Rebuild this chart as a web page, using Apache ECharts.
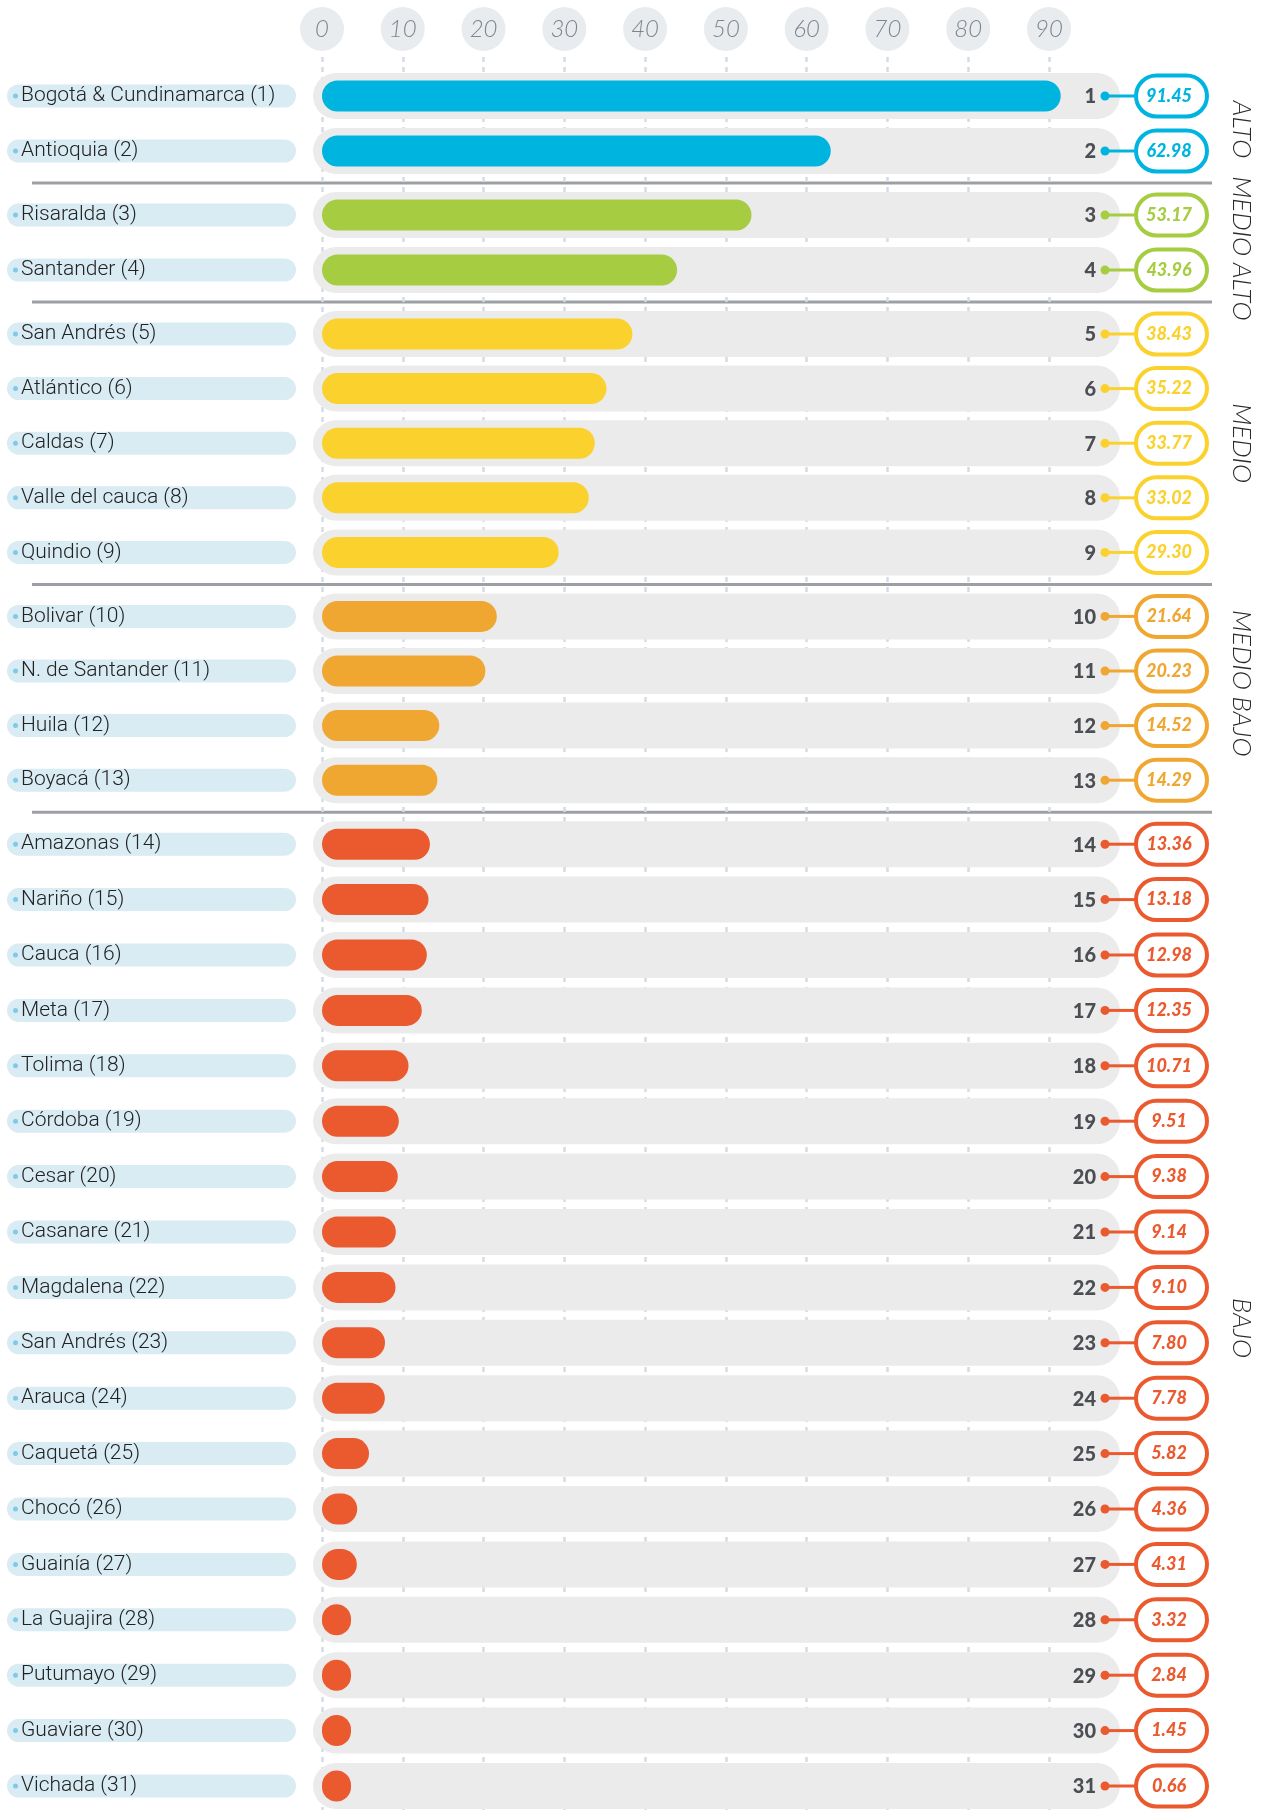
<!DOCTYPE html>
<html>
<head>
<meta charset="utf-8">
<title>Ranking departamental</title>
<script src="https://cdn.jsdelivr.net/npm/echarts@6/dist/echarts.min.js"></script>
<style>
  html, body { margin: 0; padding: 0; background: #fff; }
  #chart { width: 1264px; height: 1810px; }
</style>
</head>
<body>
<div id="chart"></div>
<script>
const nombres = [
  'Bogotá & Cundinamarca', 'Antioquia', 'Risaralda', 'Santander', 'San Andrés',
  'Atlántico', 'Caldas', 'Valle del cauca', 'Quindio', 'Bolivar',
  'N. de Santander', 'Huila', 'Boyacá', 'Amazonas', 'Nariño',
  'Cauca', 'Meta', 'Tolima', 'Córdoba', 'Cesar',
  'Casanare', 'Magdalena', 'San Andrés', 'Arauca', 'Caquetá',
  'Chocó', 'Guainía', 'La Guajira', 'Putumayo', 'Guaviare', 'Vichada'
]
const valores = [
  91.45, 62.98, 53.17, 43.96, 38.43,
  35.22, 33.77, 33.02, 29.30, 21.64,
  20.23, 14.52, 14.29, 13.36, 13.18,
  12.98, 12.35, 10.71, 9.51, 9.38,
  9.14, 9.10, 7.80, 7.78, 5.82,
  4.36, 4.31, 3.32, 2.84, 1.45, 0.66
]
const grupos = ['ALTO', 'MEDIO ALTO', 'MEDIO', 'MEDIO BAJO', 'BAJO']
const grupoTamanos = [2, 2, 5, 4, 18]
const grupoColores = ['#00b4e0', '#a6cd41', '#fbd12d', '#f0a731', '#eb5a2e']
const ticks = [0, 10, 20, 30, 40, 50, 60, 70, 80, 90]

// layout
const gridLeft = 322
const gridWidth = 727
const rowH = [55, 55, 54.6, 54.6, 55.4]
const firstRow = 96
const groupJump = 64
const labelOffset = [6, 6, 0, -15, 13]
const axisMin = ticks[0]
const axisMax = ticks[ticks.length - 1]
const axisStep = ticks[1] - ticks[0]

function pintarFila(color) {
  return function (params, api) {
    const p = api.coord([0, api.value(1)])
    const x0 = p[0]
    const y = p[1]
    const right = params.coordSys.x + params.coordSys.width
    return {
      type: 'group',
      children: [
        { type: 'rect', shape: { x: x0 - 9, y: y - 23, width: right + 80 - x0, height: 46, r: 23 }, style: { fill: '#ebebeb' } },
        { type: 'text', style: { text: String(api.value(2)), x: right + 47, y: y + 1, align: 'right', verticalAlign: 'middle', fontSize: 20, fontWeight: 900, fontFamily: 'Lato', fill: '#4b4e53' } },
        { type: 'line', shape: { x1: right + 56, y1: y, x2: right + 88, y2: y }, style: { stroke: color, lineWidth: 3 } },
        { type: 'circle', shape: { cx: right + 56, cy: y, r: 4.5 }, style: { fill: color } },
        { type: 'rect', shape: { x: right + 87, y: y - 20.5, width: 71, height: 41, r: 20.5 }, style: { fill: '#fff', stroke: color, lineWidth: 4 } },
        { type: 'text', style: { text: api.value(0).toFixed(2), x: right + 120, y: y, align: 'center', verticalAlign: 'middle', fontSize: 18, fontWeight: 900, fontStyle: 'italic', fontFamily: 'Lato', fill: color } }
      ]
    }
  }
}

const grid = [{ left: gridLeft, width: gridWidth, top: 57, bottom: 0, outerBoundsMode: 'none' }]
const xAxis = [{
  gridIndex: 0,
  type: 'value',
  position: 'top',
  min: axisMin,
  max: axisMax,
  interval: axisStep,
  axisLine: { show: false },
  axisTick: { show: false },
  splitLine: { show: true, lineStyle: { color: '#d5dce3', width: 2.5, type: [5, 5] } },
  axisLabel: {
    margin: 6,
    showMinLabel: true,
    showMaxLabel: true,
    width: 44,
    height: 44,
    lineHeight: 44,
    align: 'center',
    borderRadius: 22,
    backgroundColor: '#e9ecef',
    color: '#7f858c',
    fontSize: 24,
    fontStyle: 'italic',
    fontWeight: 300,
    fontFamily: 'Lato'
  }
}]
const yAxis = [{ gridIndex: 0, type: 'value', show: false, min: 0, max: 1 }]
const series = []
const graphic = []

let start = 0
let center = firstRow
grupoTamanos.forEach(function (n, g) {
  const gi = g + 1
  const color = grupoColores[g]
  const vals = valores.slice(start, start + n)
  const etiquetas = nombres.slice(start, start + n).map(function (s, i) {
    return s + ' (' + (start + i + 1) + ')'
  })
  grid.push({ left: gridLeft, width: gridWidth, top: center - rowH[g] / 2, height: n * rowH[g], outerBoundsMode: 'none' })
  xAxis.push({ gridIndex: gi, type: 'value', min: axisMin, max: axisMax, show: false })
  yAxis.push({
    gridIndex: gi,
    type: 'category',
    inverse: true,
    data: etiquetas,
    axisLine: { show: false },
    axisTick: { show: false },
    axisLabel: {
      interval: 0,
      margin: gridLeft - 7,
      align: 'left',
      width: 283,
      padding: [0, 0, 0, 6],
      backgroundColor: '#d9ecf4',
      borderRadius: 12,
      formatter: function (v) { return '{d| }{t|' + v + '}' },
      rich: {
        d: { width: 5, height: 5, backgroundColor: '#7dcbeb', borderRadius: 2.5 },
        t: { fontSize: 21, fontWeight: 300, fontFamily: 'Roboto', color: '#222', lineHeight: 23, padding: [0, 0, 0, 3] }
      }
    }
  })
  series.push({
    type: 'custom',
    xAxisIndex: gi,
    yAxisIndex: gi,
    clip: false,
    silent: true,
    z: 2,
    encode: { x: 0, y: 1 },
    data: vals.map(function (v, i) { return [v, i, start + i + 1] }),
    renderItem: pintarFila(color)
  })
  series.push({
    type: 'bar',
    xAxisIndex: gi,
    yAxisIndex: gi,
    data: vals,
    barWidth: 31,
    barMinHeight: 29,
    clip: false,
    silent: true,
    z: 3,
    itemStyle: { color: color, borderRadius: 15.5 }
  })

  const last = center + (n - 1) * rowH[g]
  graphic.push({
    type: 'text',
    x: 1241,
    y: (center + last) / 2 + labelOffset[g],
    rotation: -Math.PI / 2,
    style: { text: grupos[g], align: 'center', verticalAlign: 'middle', fontSize: 26, fontWeight: 300, fontStyle: 'italic', fontFamily: 'Lato', fill: '#2b2b2b' }
  })
  if (g < grupoTamanos.length - 1) {
    const sy = last + groupJump / 2
    graphic.push({ type: 'line', shape: { x1: 32, y1: sy, x2: 1212, y2: sy }, style: { stroke: '#9c9fa3', lineWidth: 3 } })
  }
  center = last + groupJump
  start += n
})

const chart = echarts.init(document.getElementById('chart'))
chart.setOption({
  backgroundColor: '#fff',
  animation: false,
  grid: grid,
  xAxis: xAxis,
  yAxis: yAxis,
  series: series,
  graphic: graphic
})
</script>
</body>
</html>
